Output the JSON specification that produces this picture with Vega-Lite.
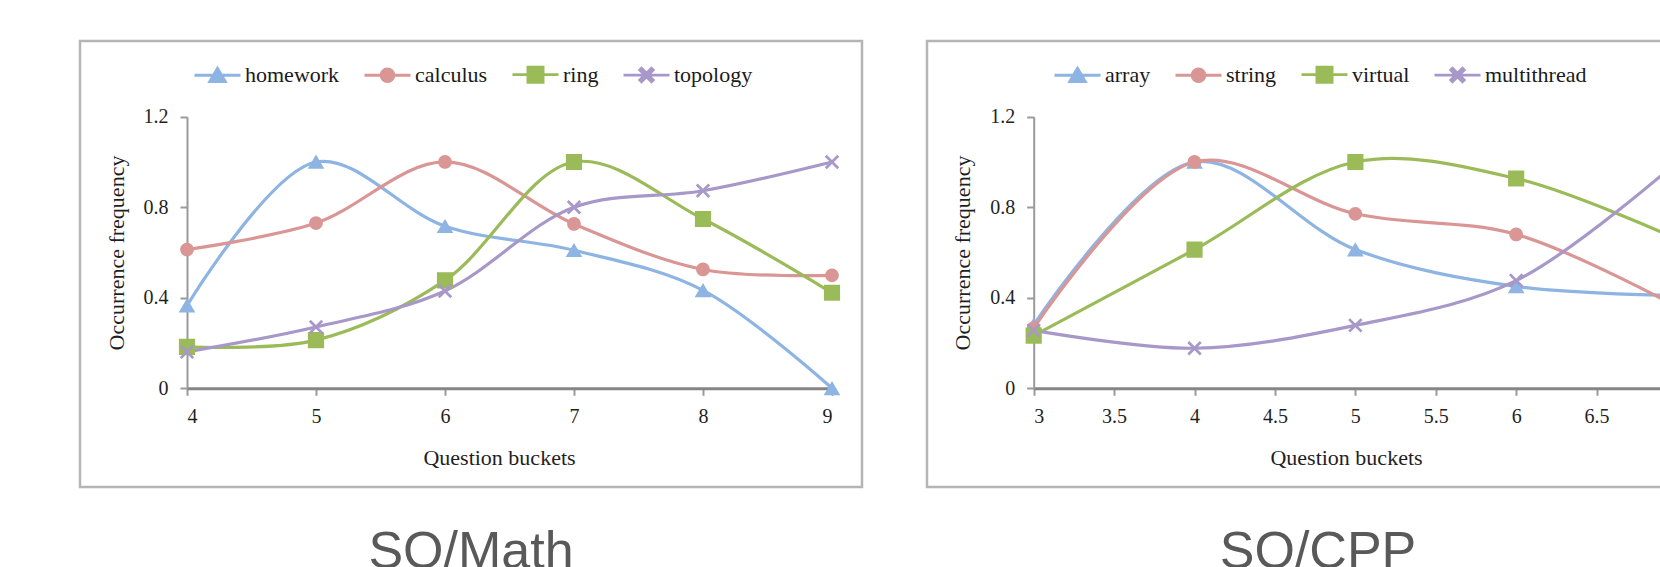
{
  "$schema": "https://vega.github.io/schema/vega-lite/v6.json",
  "background": "white",
  "padding": {"left": 78, "top": 39, "right": 0, "bottom": 0},
  "spacing": 61,
  "datasets": {
    "math": [
      {"bucket": 4, "freq": 0.365, "tag": "homework"},
      {"bucket": 5, "freq": 1.0, "tag": "homework"},
      {"bucket": 6, "freq": 0.716, "tag": "homework"},
      {"bucket": 7, "freq": 0.61, "tag": "homework"},
      {"bucket": 8, "freq": 0.433, "tag": "homework"},
      {"bucket": 9, "freq": 0.0, "tag": "homework"},
      {"bucket": 4, "freq": 0.613, "tag": "calculus"},
      {"bucket": 5, "freq": 0.73, "tag": "calculus"},
      {"bucket": 6, "freq": 1.0, "tag": "calculus"},
      {"bucket": 7, "freq": 0.726, "tag": "calculus"},
      {"bucket": 8, "freq": 0.525, "tag": "calculus"},
      {"bucket": 9, "freq": 0.499, "tag": "calculus"},
      {"bucket": 4, "freq": 0.183, "tag": "ring"},
      {"bucket": 5, "freq": 0.213, "tag": "ring"},
      {"bucket": 6, "freq": 0.477, "tag": "ring"},
      {"bucket": 7, "freq": 1.0, "tag": "ring"},
      {"bucket": 8, "freq": 0.748, "tag": "ring"},
      {"bucket": 9, "freq": 0.422, "tag": "ring"},
      {"bucket": 4, "freq": 0.161, "tag": "topology"},
      {"bucket": 5, "freq": 0.271, "tag": "topology"},
      {"bucket": 6, "freq": 0.43, "tag": "topology"},
      {"bucket": 7, "freq": 0.8, "tag": "topology"},
      {"bucket": 8, "freq": 0.873, "tag": "topology"},
      {"bucket": 9, "freq": 1.0, "tag": "topology"}
    ],
    "cpp": [
      {"bucket": 3, "freq": 0.28, "tag": "array"},
      {"bucket": 4, "freq": 1.0, "tag": "array"},
      {"bucket": 5, "freq": 0.613, "tag": "array"},
      {"bucket": 6, "freq": 0.45, "tag": "array"},
      {"bucket": 7, "freq": 0.41, "tag": "array"},
      {"bucket": 3, "freq": 0.266, "tag": "string"},
      {"bucket": 4, "freq": 1.0, "tag": "string"},
      {"bucket": 5, "freq": 0.771, "tag": "string"},
      {"bucket": 6, "freq": 0.68, "tag": "string"},
      {"bucket": 7, "freq": 0.36, "tag": "string"},
      {"bucket": 3, "freq": 0.233, "tag": "virtual"},
      {"bucket": 4, "freq": 0.613, "tag": "virtual"},
      {"bucket": 5, "freq": 1.0, "tag": "virtual"},
      {"bucket": 6, "freq": 0.927, "tag": "virtual"},
      {"bucket": 7, "freq": 0.66, "tag": "virtual"},
      {"bucket": 3, "freq": 0.256, "tag": "multithread"},
      {"bucket": 4, "freq": 0.177, "tag": "multithread"},
      {"bucket": 5, "freq": 0.278, "tag": "multithread"},
      {"bucket": 6, "freq": 0.476, "tag": "multithread"},
      {"bucket": 7, "freq": 1.0, "tag": "multithread"}
    ]
  },
  "resolve": {
    "scale": {"x": "independent", "y": "independent", "color": "shared", "shape": "shared"},
    "legend": {"color": "independent", "shape": "independent"}
  },
  "hconcat": [
    {
      "width": 782,
      "height": 446,
      "title": {"text": "SO/Math", "orient": "bottom", "anchor": "middle", "font": "Liberation Sans", "fontSize": 52, "fontWeight": "normal", "color": "#595959", "offset": 40, "baseline": "top"},
      "data": {"name": "math"},
      "encoding": {
        "x": {
          "field": "bucket", "type": "quantitative",
          "scale": {"domain": [4, 9], "range": [107, 752], "nice": false, "zero": false},
          "axis": {
            "orient": "bottom", "offset": -98.7, "values": [4, 5, 6, 7, 8, 9], "format": "d",
            "domainColor": "#858585", "domainWidth": 3, "tickColor": "#9a9a9a", "tickWidth": 2, "tickSize": 7,
            "labelPadding": 11.5, "labelFont": "Liberation Serif", "labelFontSize": 20, "labelColor": "#1f1f1f",
            "grid": false, "title": "Question buckets", "titleFont": "Liberation Serif", "titleFontSize": 22,
            "titleFontWeight": "normal", "titleColor": "#1f1f1f", "titleX": 419, "titleY": 75.7,
            "titleBaseline": "alphabetic", "titleAlign": "center"
          }
        },
        "y": {
          "field": "freq", "type": "quantitative",
          "scale": {"domain": [0, 1.2], "range": [347.3, 75.7], "nice": false, "zero": false},
          "axis": {
            "orient": "left", "offset": -107, "values": [0, 0.4, 0.8, 1.2], "format": ".1~f",
            "domainColor": "#9a9a9a", "domainWidth": 2, "tickColor": "#9a9a9a", "tickWidth": 2, "tickSize": 7,
            "labelPadding": 12, "labelFont": "Liberation Serif", "labelFontSize": 20, "labelColor": "#1f1f1f",
            "grid": false, "title": "Occurrence frequency", "titleFont": "Liberation Serif", "titleFontSize": 22,
            "titleFontWeight": "normal", "titleColor": "#1f1f1f", "titleX": -71, "titleY": 211.5,
            "titleAngle": 270, "titleBaseline": "middle", "titleAlign": "center"
          }
        },
        "color": {
          "field": "tag", "type": "nominal",
          "scale": {
            "domain": ["homework", "calculus", "ring", "topology", "array", "string", "virtual", "multithread"],
            "range": ["#8DB4E2", "#D99694", "#9BBB59", "#A897C9", "#8DB4E2", "#D99694", "#9BBB59", "#A897C9"]
          },
          "legend": {
            "orient": "none", "legendX": 113, "legendY": 9, "direction": "horizontal", "title": null,
            "values": ["homework", "calculus", "ring", "topology"],
            "symbolSize": 2116, "symbolStrokeWidth": 2.5, "labelOffset": 3, "columnPadding": 18,
            "labelFont": "Liberation Serif", "labelFontSize": 22, "labelColor": "#1a1a1a",
            "encode": {"symbols": {"update": {"stroke": {"scale": "color", "field": "value"}, "fill": {"scale": "color", "field": "value"}, "strokeWidth": {"value": 2.8}, "opacity": {"value": 1}}}}
          }
        }
      },
      "layer": [
        {"mark": {"type": "line", "interpolate": "catmull-rom", "strokeWidth": 3.2}},
        {
          "mark": {"type": "point", "filled": true, "opacity": 1, "size": 2400, "strokeWidth": 0},
          "encoding": {
            "shape": {
              "field": "tag", "type": "nominal",
              "scale": {
                "domain": ["homework", "calculus", "ring", "topology", "array", "string", "virtual", "multithread"],
                "range": [
                  "M-1,0H1M0,-0.3L0.34,0.28L-0.34,0.28Z",
                  "M-1,0H1M-0.28,0A0.28,0.28,0,1,0,0.28,0A0.28,0.28,0,1,0,-0.28,0Z",
                  "M-1,0H1M-0.33,-0.33H0.33V0.33H-0.33Z",
                  "M-1,0H1M0.216,-0.294L0.294,-0.216L0.078,0L0.294,0.216L0.216,0.294L0,0.078L-0.216,0.294L-0.294,0.216L-0.078,0L-0.294,-0.216L-0.216,-0.294L0,-0.078Z",
                  "M-1,0H1M0,-0.3L0.34,0.28L-0.34,0.28Z",
                  "M-1,0H1M-0.28,0A0.28,0.28,0,1,0,0.28,0A0.28,0.28,0,1,0,-0.28,0Z",
                  "M-1,0H1M-0.33,-0.33H0.33V0.33H-0.33Z",
                  "M-1,0H1M0.216,-0.294L0.294,-0.216L0.078,0L0.294,0.216L0.216,0.294L0,0.078L-0.216,0.294L-0.294,0.216L-0.078,0L-0.294,-0.216L-0.216,-0.294L0,-0.078Z"
                ]
              },
              "legend": {
                "orient": "none", "legendX": 113, "legendY": 9, "direction": "horizontal", "title": null,
                "values": ["homework", "calculus", "ring", "topology"],
                "symbolSize": 2116, "symbolStrokeWidth": 2.5, "labelOffset": 3, "columnPadding": 18,
                "labelFont": "Liberation Serif", "labelFontSize": 22, "labelColor": "#1a1a1a",
                "encode": {"symbols": {"update": {"stroke": {"scale": "color", "field": "value"}, "fill": {"scale": "color", "field": "value"}, "strokeWidth": {"value": 2.8}, "opacity": {"value": 1}}}}
              }
            }
          }
        }
      ]
    },
    {
      "width": 782,
      "height": 446,
      "title": {"text": "SO/CPP", "orient": "bottom", "anchor": "middle", "font": "Liberation Sans", "fontSize": 52, "fontWeight": "normal", "color": "#595959", "offset": 40, "baseline": "top"},
      "data": {"name": "cpp"},
      "encoding": {
        "x": {
          "field": "bucket", "type": "quantitative",
          "scale": {"domain": [3, 7], "range": [106.7, 750], "nice": false, "zero": false},
          "axis": {
            "orient": "bottom", "offset": -98.7, "values": [3, 3.5, 4, 4.5, 5, 5.5, 6, 6.5, 7], "format": ".1~f",
            "domainColor": "#858585", "domainWidth": 3, "tickColor": "#9a9a9a", "tickWidth": 2, "tickSize": 7,
            "labelPadding": 11.5, "labelFont": "Liberation Serif", "labelFontSize": 20, "labelColor": "#1f1f1f",
            "grid": false, "title": "Question buckets", "titleFont": "Liberation Serif", "titleFontSize": 22,
            "titleFontWeight": "normal", "titleColor": "#1f1f1f", "titleX": 419, "titleY": 75.7,
            "titleBaseline": "alphabetic", "titleAlign": "center"
          }
        },
        "y": {
          "field": "freq", "type": "quantitative",
          "scale": {"domain": [0, 1.2], "range": [347.3, 75.7], "nice": false, "zero": false},
          "axis": {
            "orient": "left", "offset": -106.7, "values": [0, 0.4, 0.8, 1.2], "format": ".1~f",
            "domainColor": "#9a9a9a", "domainWidth": 2, "tickColor": "#9a9a9a", "tickWidth": 2, "tickSize": 7,
            "labelPadding": 12, "labelFont": "Liberation Serif", "labelFontSize": 20, "labelColor": "#1f1f1f",
            "grid": false, "title": "Occurrence frequency", "titleFont": "Liberation Serif", "titleFontSize": 22,
            "titleFontWeight": "normal", "titleColor": "#1f1f1f", "titleX": -71, "titleY": 211.5,
            "titleAngle": 270, "titleBaseline": "middle", "titleAlign": "center"
          }
        },
        "color": {
          "field": "tag", "type": "nominal",
          "legend": {
            "orient": "none", "legendX": 126, "legendY": 9, "direction": "horizontal", "title": null,
            "values": ["array", "string", "virtual", "multithread"],
            "symbolSize": 2116, "symbolStrokeWidth": 2.5, "labelOffset": 3, "columnPadding": 18,
            "labelFont": "Liberation Serif", "labelFontSize": 22, "labelColor": "#1a1a1a",
            "encode": {"symbols": {"update": {"stroke": {"scale": "color", "field": "value"}, "fill": {"scale": "color", "field": "value"}, "strokeWidth": {"value": 2.8}, "opacity": {"value": 1}}}}
          }
        }
      },
      "layer": [
        {"mark": {"type": "line", "interpolate": "catmull-rom", "strokeWidth": 3.2, "clip": true}},
        {
          "mark": {"type": "point", "filled": true, "opacity": 1, "size": 2400, "strokeWidth": 0, "clip": true},
          "encoding": {
            "shape": {
              "field": "tag", "type": "nominal",
              "legend": {
                "orient": "none", "legendX": 126, "legendY": 9, "direction": "horizontal", "title": null,
                "values": ["array", "string", "virtual", "multithread"],
                "symbolSize": 2116, "symbolStrokeWidth": 2.5, "labelOffset": 3, "columnPadding": 18,
                "labelFont": "Liberation Serif", "labelFontSize": 22, "labelColor": "#1a1a1a",
                "encode": {"symbols": {"update": {"stroke": {"scale": "color", "field": "value"}, "fill": {"scale": "color", "field": "value"}, "strokeWidth": {"value": 2.8}, "opacity": {"value": 1}}}}
              }
            }
          }
        }
      ]
    }
  ],
  "config": {
    "view": {"stroke": "#b5b5b5", "strokeWidth": 2.5},
    "font": "Liberation Serif"
  }
}
